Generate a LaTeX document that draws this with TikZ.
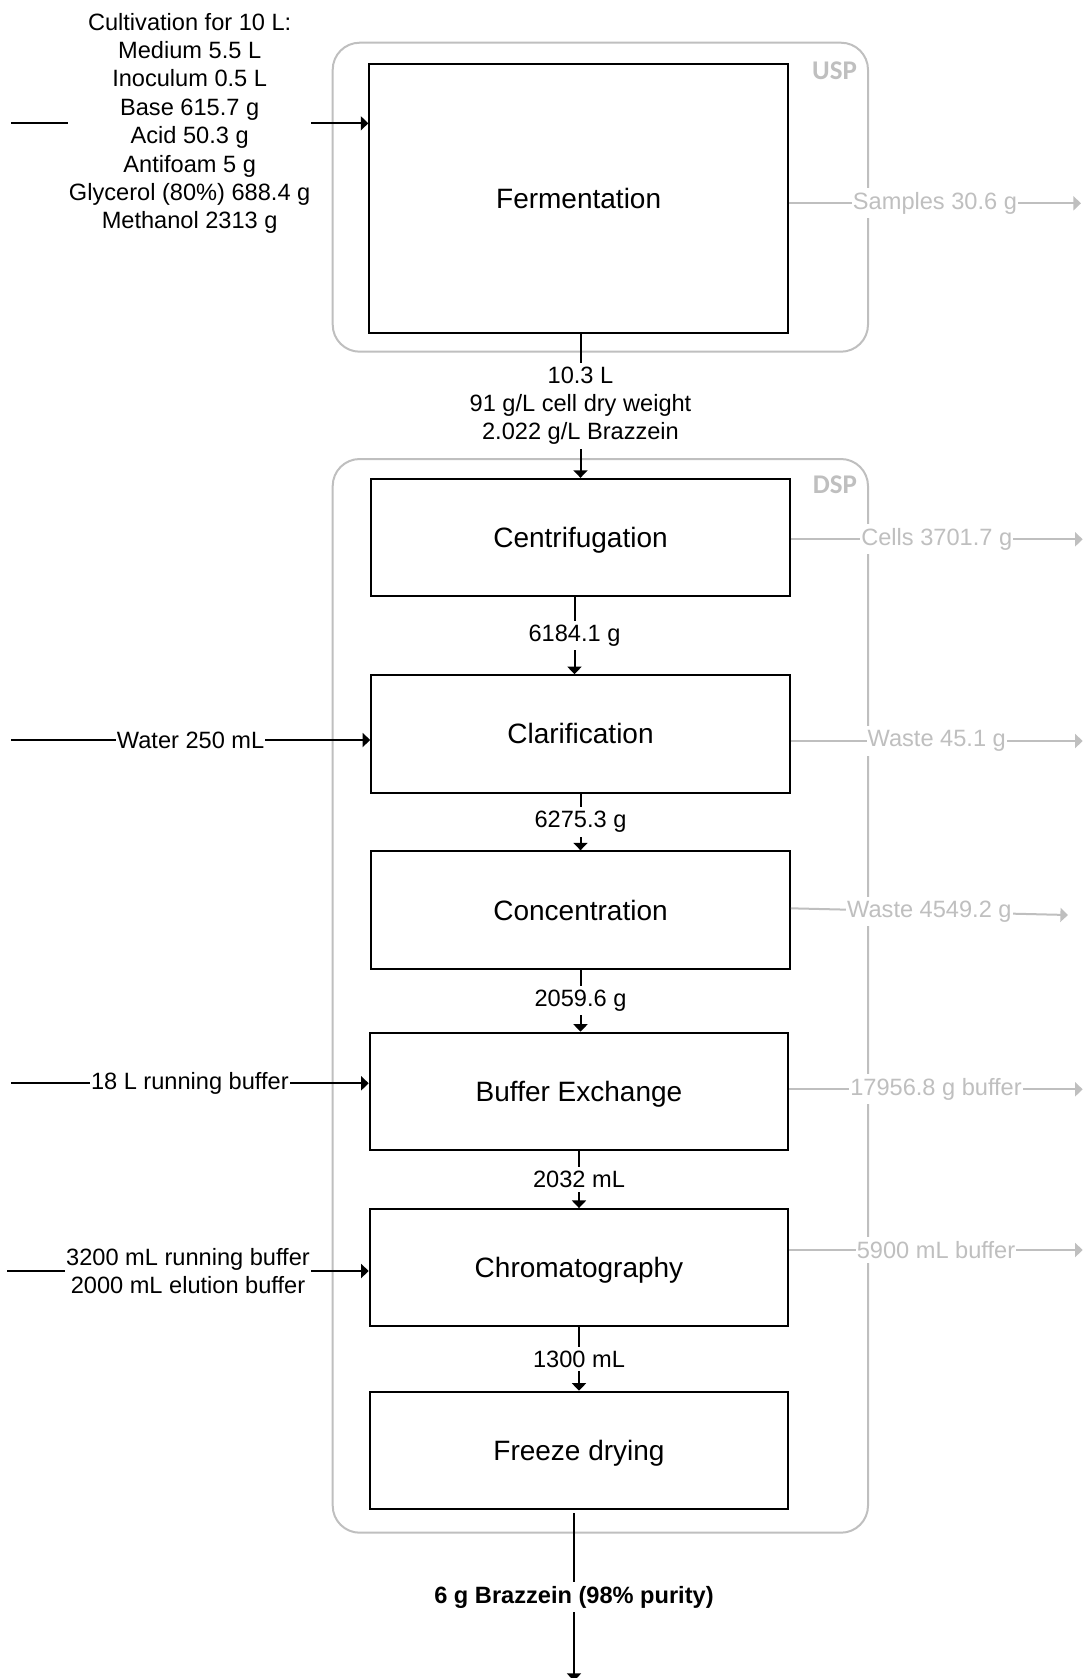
\documentclass[tikz,border=0pt]{standalone}
\usepackage{fontspec}
\setmainfont{Liberation Sans}
\newfontfamily\stagefont{Carlito}
\usetikzlibrary{%
  arrows.meta,%
  calc%
}
\colorlet{wastegray}{black!25}

\begin{document}
\begin{tikzpicture}[x=0.5pt,y=-0.5pt,line width=1pt,
    >={Triangle[length=3.8pt,width=7pt]},
    proc/.style={draw,minimum width=209.3pt,minimum height=58.65pt,
      inner sep=0pt,text height=10pt,text depth=0pt,
      font=\fontsize{14}{16.8}\selectfont},
    stage/.style={draw=wastegray,rounded corners=13.5pt},
    stagename/.style={anchor=east,inner sep=0pt,text=wastegray,
      font=\stagefont\fontsize{13.5}{16}\bfseries\selectfont},
    flowlbl/.style={fill=white,inner xsep=0.5pt,inner ysep=2pt,align=center,
      font=\fontsize{11.8}{14.2}\selectfont},
    wasteflow/.style={draw=wastegray,->},
    wastelbl/.style={flowlbl,text=wastegray}]
    \useasboundingbox (0,0) rectangle (1086,1678);
    % USP and DSP frames
    \draw[stage] (332.7,42.7) rectangle (868,351.7);
    \draw[stage] (332.7,459) rectangle (868,1532.7);
    \node[stagename] (usp) at (858,71) {USP};
    \node[stagename] (dsp) at (858,485) {DSP};
    % process steps
    \node[proc,minimum height=134.35pt] (ferm) at (578.65,198.35) {Fermentation};
    \node[proc] (centr) at (580.5,537.5) {Centrifugation};
    \node[proc] (clar) at (580.5,733.9) {Clarification};
    \node[proc] (conc) at (580.5,910) {Concentration};
    \node[proc] (bufex) at (579,1091.4) {Buffer Exchange};
    \node[proc] (chrom) at (579,1267.7) {Chromatography};
    \node[proc] (freeze) at (579,1450.4) {Freeze drying};
    % main stream
    \draw[->] (centr.north |- ferm.south) -- node[flowlbl] (broth)
    {10.3 L\\91 g/L cell dry weight\\2.022 g/L Brazzein} (centr.north);
    \draw[->] ([xshift=-3pt]centr.south) -- node[flowlbl] (supern)
    {6184.1 g} ([xshift=-3pt]clar.north);
    \draw[->] (clar) -- node[flowlbl] (clarified) {6275.3 g} (conc);
    \draw[->] (conc.south) -- node[flowlbl] (retentate)
    {2059.6 g} (conc.south |- bufex.north);
    \draw[->] (bufex) -- node[flowlbl] (exchanged) {2032 mL} (chrom);
    \draw[->] (chrom) -- node[flowlbl] (eluate) {1300 mL} (freeze);
    \coordinate (product) at (574,1681);
    \draw[->] ([xshift=-2.5pt,yshift=-1.5pt]freeze.south) --
    node[flowlbl,font=\bfseries\fontsize{11.8}{14.2}\selectfont] (prodlbl)
    {6 g Brazzein (98\% purity)} (product);
    % inputs
    \coordinate (cultsrc) at (11,123.3);
    \draw[->] (cultsrc) -- node[flowlbl] (cultlbl)
    {Cultivation for 10 L:\\Medium 5.5 L\\Inoculum 0.5 L\\Base 615.7 g\\
      Acid 50.3 g\\Antifoam 5 g\\Glycerol (80\%) 688.4 g\\Methanol 2313 g}
    (cultsrc -| ferm.west);
    \coordinate (watersrc) at (11,740);
    \draw[->] (watersrc) -- node[flowlbl] (waterlbl)
    {Water 250 mL} (watersrc -| clar.west);
    \coordinate (runsrc) at (11,1083.3);
    \draw[->] (runsrc) -- node[flowlbl] (runlbl)
    {18 L running buffer} (runsrc -| bufex.west);
    \coordinate (chromsrc) at (7.3,1271);
    \draw[->] (chromsrc) -- node[flowlbl] (chromlbl)
    {3200 mL running buffer\\2000 mL elution buffer} (chromsrc -| chrom.west);
    % outputs
    \coordinate (sampdst) at (1081,203.3);
    \draw[wasteflow] (sampdst -| ferm.east) -- node[wastelbl] (samplbl)
    {Samples 30.6 g} (sampdst);
    \coordinate (cellsdst) at (1082.7,539.3);
    \draw[wasteflow] (cellsdst -| centr.east) -- node[wastelbl] (cellslbl)
    {Cells 3701.7 g} (cellsdst);
    \coordinate (wasteadst) at (1082.7,741);
    \draw[wasteflow] (wasteadst -| clar.east) -- node[wastelbl] (wastealbl)
    {Waste 45.1 g} (wasteadst);
    \coordinate (wastebdst) at (1068,915);
    \draw[wasteflow] ([yshift=0.85pt]conc.east) -- node[wastelbl] (wasteblbl)
    {Waste 4549.2 g} (wastebdst);
    \coordinate (bufdst) at (1082.7,1089.3);
    \draw[wasteflow] (bufdst -| bufex.east) -- node[wastelbl] (buflbl)
    {17956.8 g buffer} (bufdst);
    \coordinate (eludst) at (1082.7,1250);
    \draw[wasteflow] (eludst -| chrom.east) -- node[wastelbl] (elulbl)
    {5900 mL buffer} (eludst);
\end{tikzpicture}
\end{document}
